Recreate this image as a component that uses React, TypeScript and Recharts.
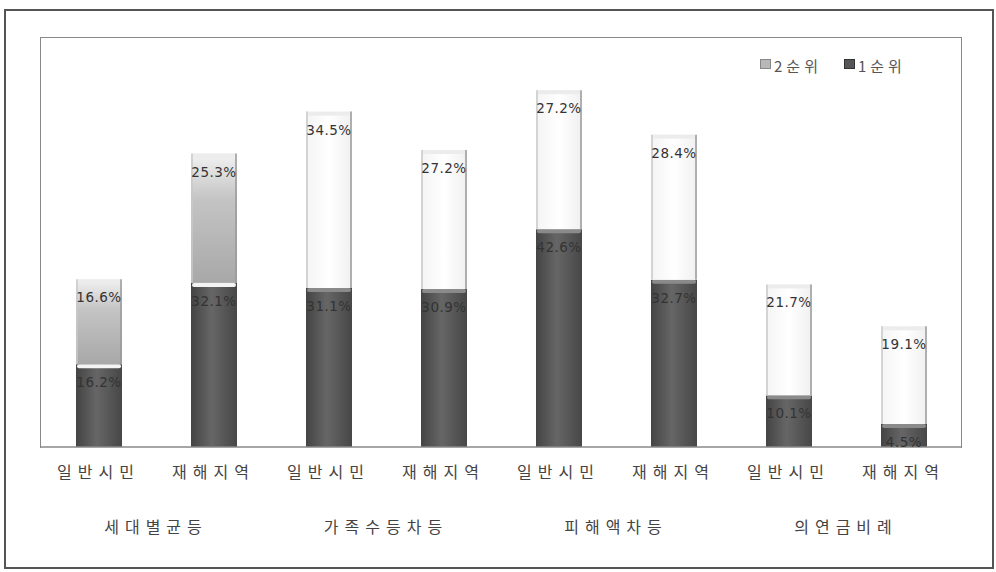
import React from 'react';
import { BarChart, Bar, XAxis, YAxis, LabelList } from 'recharts';

const categories = ['일반시민', '재해지역', '일반시민', '재해지역', '일반시민', '재해지역', '일반시민', '재해지역'];
const groups = ['세대별균등', '가족수등차등', '피해액차등', '의연금비례'];
const rank1 = [16.2, 32.1, 31.1, 30.9, 42.6, 32.7, 10.1, 4.5];
const rank2 = [16.6, 25.3, 34.5, 27.2, 27.2, 28.4, 21.7, 19.1];
const legendNames = ['2순위', '1순위'];

const data = categories.map((name, i) => ({
  name,
  group: groups[Math.floor(i / 2)],
  r1: rank1[i],
  r2: rank2[i],
}));

const KFONT = '"Noto Sans CJK KR", "Noto Sans", sans-serif';
const STEP = 115; // width of one category band

// two-row tick: sub category, then group label centred under each pair
const GroupTick = ({ x, y, payload, index }: any) => (
  <g>
    <text x={x} y={y + 23} textAnchor="middle" fontFamily={KFONT} fontSize={16} letterSpacing={6} fill="#444">
      {payload.value}
    </text>
    {index % 2 === 0 && (
      <text x={x + STEP / 2} y={y + 78} textAnchor="middle" fontFamily={KFONT} fontSize={16} letterSpacing={6} fill="#444">
        {data[index].group}
      </text>
    )}
  </g>
);

const ValueLabel = ({ x, y, width, value }: any) => (
  <text
    x={x + width / 2}
    y={y + 19}
    textAnchor="middle"
    dominantBaseline="middle"
    fontFamily="DejaVu Sans, sans-serif"
    fontSize={13.5}
    letterSpacing={0.5}
    fill="#333"
  >
    {`${value}%`}
  </text>
);

// glass-tube look for the 2nd rank segments
const TubeShape = ({ x, y, width, height, index }: any) => {
  const filled = index < 2;
  return (
    <g>
      <rect x={x} y={y} width={width} height={height} fill={filled ? 'url(#gray2)' : 'url(#glass)'} />
      <line x1={x + 1} y1={y} x2={x + 1} y2={y + height} stroke="#c8c8c8" strokeWidth={1.5} />
      <line x1={x + width - 1} y1={y} x2={x + width - 1} y2={y + height} stroke="#999" strokeWidth={1.5} />
      <rect x={x + 2} y={y} width={width - 4} height={4} fill="#ececec" />
    </g>
  );
};

const DarkShape = ({ x, y, width, height, index }: any) => (
  <g>
    <rect x={x} y={y} width={width} height={height} fill="url(#dark1)" />
    <rect x={x + 1} y={y} width={width - 2} height={4} fill={index < 2 ? '#f4f4f4' : '#8a8a8a'} rx={2} />
  </g>
);

export default function App() {
  return (
    <div style={{ position: 'absolute', left: 0, top: 0, width: 996, height: 572, background: '#fff' }}>
      <div
        style={{
          position: 'absolute',
          left: 4,
          top: 9,
          width: 990,
          height: 560,
          border: '2px solid #555',
          boxSizing: 'border-box',
        }}
      />
      {/* plot frame */}
      <div
        style={{
          position: 'absolute',
          left: 40,
          top: 37,
          width: 922,
          height: 411,
          borderLeft: '1.5px solid #888',
          borderTop: '1.5px solid #888',
          borderRight: '1.5px solid #888',
          boxSizing: 'border-box',
        }}
      />
      <div
        style={{
          position: 'absolute',
          left: 760,
          top: 55,
          display: 'flex',
          gap: 22,
          fontFamily: KFONT,
          fontSize: 15,
          letterSpacing: 4,
          color: '#555',
        }}
      >
        {legendNames.map((n, i) => (
          <span key={n} style={{ display: 'flex', alignItems: 'center' }}>
            <span
              style={{
                width: 9,
                height: 8,
                background: i === 0 ? '#b8b8b8' : '#555',
                border: `1px solid ${i === 0 ? '#888' : '#333'}`,
                marginRight: 3,
                marginBottom: 4,
              }}
            />
            {n}
          </span>
        ))}
      </div>
      <BarChart
        width={996}
        height={572}
        data={data}
        margin={{ top: 38, right: 35, left: 41, bottom: 25 }}
        barSize={46}
        style={{ position: 'absolute', left: 0, top: 0 }}
      >
        <defs>
          <linearGradient id="dark1" x1="0" y1="0" x2="1" y2="0">
            <stop offset="0%" stopColor="#444" />
            <stop offset="45%" stopColor="#666" />
            <stop offset="100%" stopColor="#474747" />
          </linearGradient>
          <linearGradient id="gray2" x1="0" y1="0" x2="0" y2="1">
            <stop offset="0%" stopColor="#f2f2f2" />
            <stop offset="35%" stopColor="#c4c4c4" />
            <stop offset="100%" stopColor="#a8a8a8" />
          </linearGradient>
          <linearGradient id="glass" x1="0" y1="0" x2="1" y2="0">
            <stop offset="0%" stopColor="#f4f4f4" />
            <stop offset="50%" stopColor="#ffffff" />
            <stop offset="100%" stopColor="#f0f0f0" />
          </linearGradient>
        </defs>
        <XAxis
          dataKey="name"
          height={100}
          interval={0}
          tick={<GroupTick />}
          tickLine={false}
          axisLine={{ stroke: '#888', strokeWidth: 1.5 }}
        />
        <YAxis domain={[0, 80]} width={0} tick={false} tickLine={false} axisLine={false} />
        <Bar dataKey="r1" stackId="a" name="1순위" shape={<DarkShape />} isAnimationActive={false}>
          <LabelList dataKey="r1" content={<ValueLabel />} />
        </Bar>
        <Bar dataKey="r2" stackId="a" name="2순위" shape={<TubeShape />} isAnimationActive={false}>
          <LabelList dataKey="r2" content={<ValueLabel />} />
        </Bar>
      </BarChart>
    </div>
  );
}
